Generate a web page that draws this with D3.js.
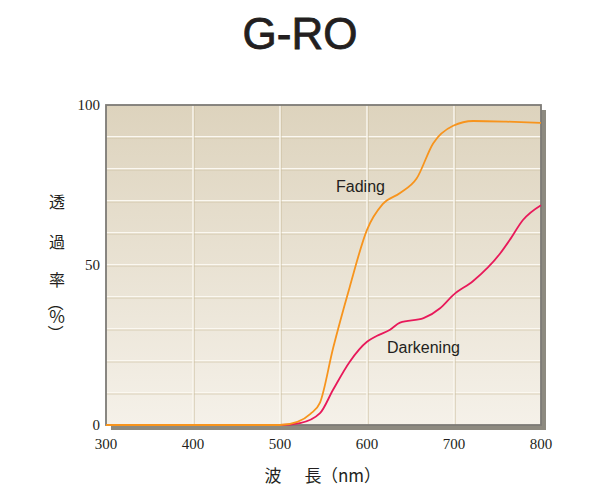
<!DOCTYPE html>
<html><head><meta charset="utf-8">
<script src="https://cdn.jsdelivr.net/npm/d3@7"></script>
<style>body{margin:0;background:#fff}</style>
</head><body>
<svg id="c" width="600" height="500"></svg>
<script>
const title = "G-RO";
const xTicks = [300, 400, 500, 600, 700, 800];
const yTicks = [0, 50, 100];
const fadingNm  = [300, 500, 520, 535, 546, 561, 580, 600, 618, 638, 657, 676, 699, 722, 760, 800];
const fadingPct = [0,   0,   1,   3.5, 7,  24,  43,  61,  69,  72.5, 77, 88,  93.5, 95,  94.8, 94.4];
const darkNm  = [300, 500, 523, 546, 561, 580, 600, 611, 626, 638, 665, 684, 699, 722, 753, 764, 779, 800];
const darkPct = [0,   0,   0.6, 3.7, 11, 19.7, 26, 27.8, 29.7, 32, 33.4, 36.5, 40.6, 45, 53.6, 57.8, 64, 68.7];
const seriesLabels = ["Fading", "Darkening"];

const svg = d3.select("#c");
const x = d3.scaleLinear().domain([300, 800]).range([106, 541]);
const y = d3.scaleLinear().domain([0, 100]).range([425, 105]);

const defs = svg.append("defs");
const g = defs.append("linearGradient").attr("id","bg").attr("x1",0).attr("y1",0).attr("x2",0).attr("y2",1);
g.append("stop").attr("offset","0%").attr("stop-color","#ddd3bd");
g.append("stop").attr("offset","100%").attr("stop-color","#f5f1e9");

svg.append("rect").attr("x", x(300)+5).attr("y", y(100)+5).attr("width", x(800)-x(300)).attr("height", y(0)-y(100))
  .attr("fill", "#8d8a80");
svg.append("rect").attr("x", x(300)).attr("y", y(100)).attr("width", x(800)-x(300)).attr("height", y(0)-y(100))
  .attr("fill", "url(#bg)");

const gy = d3.range(10, 100, 10);
svg.selectAll(".gy2").data(gy).enter().append("line")
  .attr("x1", x(300)).attr("x2", x(800)).attr("y1", d=>y(d)+0.8).attr("y2", d=>y(d)+0.8)
  .attr("stroke", "#c9bc9c").attr("stroke-width", 1);
svg.selectAll(".gy").data(gy).enter().append("line")
  .attr("x1", x(300)).attr("x2", x(800)).attr("y1", d=>y(d)-0.3).attr("y2", d=>y(d)-0.3)
  .attr("stroke", "#fbf8f1").attr("stroke-width", 1.4);
const gx = [400, 500, 600, 700];
svg.selectAll(".gx2").data(gx).enter().append("line")
  .attr("x1", d=>x(d)+1).attr("x2", d=>x(d)+1).attr("y1", y(100)).attr("y2", y(0))
  .attr("stroke", "#c9bc9c").attr("stroke-width", 1);
svg.selectAll(".gx").data(gx).enter().append("line")
  .attr("x1", d=>x(d)).attr("x2", d=>x(d)).attr("y1", y(100)).attr("y2", y(0))
  .attr("stroke", "#fbf8f1").attr("stroke-width", 1.4);

svg.append("rect").attr("x", x(300)).attr("y", y(100)).attr("width", x(800)-x(300)).attr("height", y(0)-y(100))
  .attr("fill", "none").attr("stroke", "#7d7b76").attr("stroke-width", 1.8);

const line = d3.line().x(d=>x(d[0])).y(d=>y(d[1])).curve(d3.curveMonotoneX);
svg.append("path").datum(darkNm.map((n,i)=>[n, darkPct[i]])).attr("d", line)
  .attr("fill","none").attr("stroke","#e8195a").attr("stroke-width",1.8);
svg.append("path").datum(fadingNm.map((n,i)=>[n, fadingPct[i]])).attr("d", line)
  .attr("fill","none").attr("stroke","#f7941d").attr("stroke-width",1.8);

svg.append("text").attr("x", 336).attr("y", 192).text(seriesLabels[0])
  .attr("font-family","Liberation Sans, Arial, sans-serif").attr("font-size",16).attr("fill","#231f20");
svg.append("text").attr("x", 387).attr("y", 353).text(seriesLabels[1])
  .attr("font-family","Liberation Sans, Arial, sans-serif").attr("font-size",16).attr("fill","#231f20");

svg.selectAll(".xt").data(xTicks).enter().append("text")
  .attr("x", d=>x(d)).attr("y", 449).attr("text-anchor","middle").text(d=>d)
  .attr("font-family","Liberation Serif, Times New Roman, serif").attr("font-size",15).attr("fill","#231f20");
svg.selectAll(".yt").data(yTicks).enter().append("text")
  .attr("x", 100).attr("y", d=>y(d)+5).attr("text-anchor","end").text(d=>d)
  .attr("font-family","Liberation Serif, Times New Roman, serif").attr("font-size",15).attr("fill","#231f20");

svg.append("text").attr("x", 300).attr("y", 49).attr("text-anchor","middle").text(title)
  .attr("font-family","Liberation Sans, Arial, sans-serif").attr("font-size",44).attr("fill","#231f20")
  .attr("stroke","#231f20").attr("stroke-width",0.8);

const jp = "Noto Sans CJK JP, sans-serif";
[["透",208],["過",248],["率",286]].forEach(([c,yy])=>{
  svg.append("text").attr("x",57).attr("y",yy).attr("text-anchor","middle").text(c)
    .attr("font-family",jp).attr("font-size",16).attr("fill","#231f20");
});
svg.append("text").attr("x",57).attr("y",323).attr("text-anchor","middle").text("%")
  .attr("font-family",jp).attr("font-size",17).attr("fill","#231f20");
svg.append("text").attr("transform","translate(57,303) rotate(90)").attr("text-anchor","middle")
  .attr("dominant-baseline","central").text("（").attr("font-family",jp).attr("font-size",16).attr("fill","#231f20");
svg.append("text").attr("transform","translate(57,333) rotate(90)").attr("text-anchor","middle")
  .attr("dominant-baseline","central").text("）").attr("font-family",jp).attr("font-size",16).attr("fill","#231f20");

svg.append("text").attr("x",273).attr("y",482).attr("text-anchor","middle").text("波")
  .attr("font-family",jp).attr("font-size",17).attr("fill","#231f20");
svg.append("text").attr("x",313).attr("y",482).attr("text-anchor","middle").text("長")
  .attr("font-family",jp).attr("font-size",17).attr("fill","#231f20");
svg.append("text").attr("x",321).attr("y",482).attr("text-anchor","start").text("（nm）")
  .attr("font-family",jp).attr("font-size",17).attr("fill","#231f20");
</script>
</body></html>
